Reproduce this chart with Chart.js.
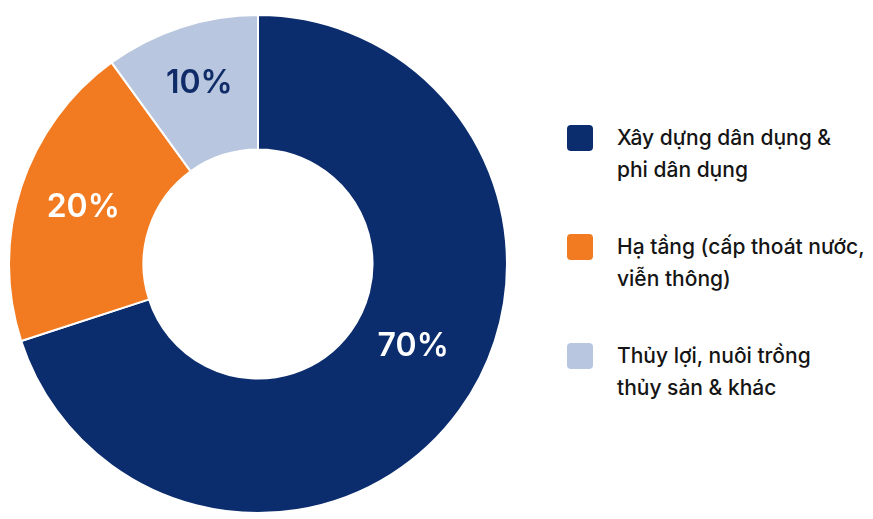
<!DOCTYPE html>
<html lang="vi">
<head>
<meta charset="utf-8">
<title>Cơ cấu doanh thu</title>
<script src="https://cdn.jsdelivr.net/npm/chart.js@4.4.1/dist/chart.umd.min.js"></script>
<style>
    html, body { margin: 0; padding: 0; background: #ffffff; }
    body { width: 873px; height: 519px; position: relative; overflow: hidden; font-family: Inter, "Noto Sans", sans-serif; }
    .chart-container { position: absolute; left: 0; top: 0; width: 516px; height: 519px; }
    #legend { position: absolute; left: 567px; top: 125px; }
    .legend-item { display: flex; align-items: flex-start; height: 109px; }
    .legend-box { width: 26px; height: 26px; border-radius: 4px; flex: none; }
    .legend-text { margin-left: 24px; margin-top: -3px; font-size: 21px; font-weight: 500; line-height: 32px; color: #151515; white-space: nowrap; }
</style>
</head>
<body>
<div class="chart-container"><canvas id="share-chart"></canvas></div>
<div id="legend"></div>
<script>
// --- Data ---
const categories = [
    ['Xây dựng dân dụng &', 'phi dân dụng'],
    ['Hạ tầng (cấp thoát nước,', 'viễn thông)'],
    ['Thủy lợi, nuôi trồng', 'thủy sản & khác']
];
const shares = [70, 20, 10];
const sliceColors = ['#0b2d6e', '#f27a21', '#b9c6df'];
const labelColors = ['#ffffff', '#ffffff', '#102c68'];

// --- Percent labels drawn on each slice ---
const sliceLabels = {
    id: 'sliceLabels',
    afterDatasetsDraw(chart, args, opts) {
        const ctx = chart.ctx;
        const meta = chart.getDatasetMeta(0);
        ctx.save();
        ctx.font = '600 32px Inter, "Noto Sans", sans-serif';
        ctx.textAlign = 'center';
        ctx.textBaseline = 'middle';
        meta.data.forEach((arc, i) => {
            const p = arc.getProps(['x', 'y', 'startAngle', 'endAngle', 'innerRadius', 'outerRadius'], true);
            const mid = (p.startAngle + p.endAngle) / 2 + (opts.shift[i] || 0) * Math.PI / 180;
            const r = (p.innerRadius + p.outerRadius) / 2 + (opts.radial[i] || 0);
            ctx.fillStyle = labelColors[i];
            ctx.fillText(shares[i] + '%', p.x + Math.cos(mid) * r, p.y + Math.sin(mid) * r);
        });
        ctx.restore();
    }
};

const ctx = document.getElementById('share-chart').getContext('2d');
const chart = new Chart(ctx, {
    type: 'doughnut',
    data: {
        labels: categories,
        datasets: [{
            data: shares,
            backgroundColor: sliceColors,
            borderColor: '#ffffff',
            borderWidth: 2
        }]
    },
    options: {
        responsive: true,
        maintainAspectRatio: false,
        animation: false,
        cutout: '46%',
        layout: { padding: { left: 8, right: 8, top: 13, bottom: 4 } },
        plugins: {
            legend: { display: false },
            tooltip: { enabled: false },
            sliceLabels: { shift: [-8, 0, 0], radial: [-6, 2, 8] }
        }
    },
    plugins: [sliceLabels]
});

// --- HTML legend ---
const legendEl = document.getElementById('legend');
categories.forEach((lines, i) => {
    const item = document.createElement('div');
    item.className = 'legend-item';
    item.innerHTML = `<span class="legend-box" style="background:${sliceColors[i]}"></span>
        <span class="legend-text">${lines.join('<br>')}</span>`;
    legendEl.appendChild(item);
});
</script>
</body>
</html>
